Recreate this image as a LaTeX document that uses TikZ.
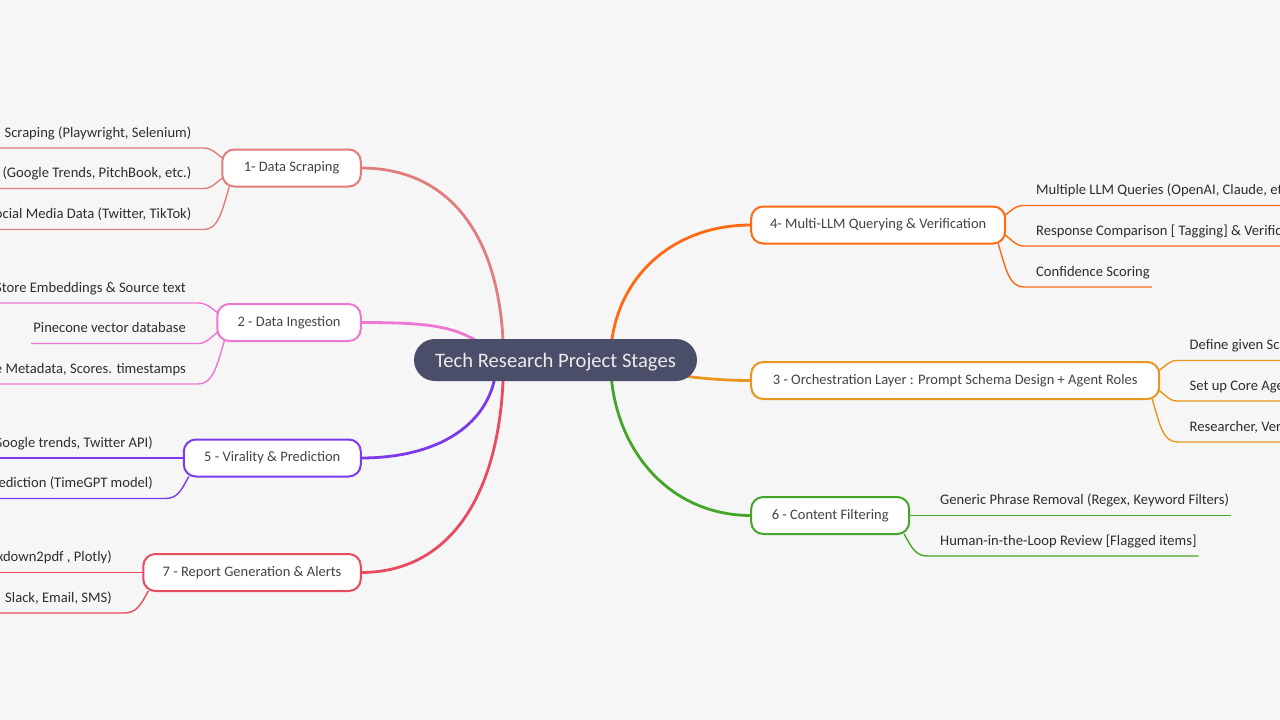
\documentclass[tikz,border=0pt]{standalone}
\usepackage{fontspec}
\setmainfont{Carlito}
\usepackage{xcolor}
\usepackage{tikz}
\usetikzlibrary{positioning}
\usetikzlibrary{backgrounds}
\def\RootGap{54pt}
\def\TopicHeight{37pt}
\definecolor{pagebg}{HTML}{F6F6F6}
\definecolor{rootfill}{HTML}{4A4E69}
\definecolor{topictext}{HTML}{444444}
\definecolor{leaftext}{HTML}{2E2E2E}
\definecolor{scrapecol}{HTML}{E27D7D}
\definecolor{ingestcol}{HTML}{EE77D4}
\definecolor{viralcol}{HTML}{7C3AED}
\definecolor{reportcol}{HTML}{E84A5F}
\definecolor{querycol}{HTML}{FF6A13}
\definecolor{orchcol}{HTML}{E8961E}
\definecolor{filtercol}{HTML}{45A52A}
\tikzset{
	rootnode/.style={fill=rootfill,text=white!92!black,rounded corners=21pt,minimum width=283pt,minimum height=42pt,inner sep=0pt,text height=16pt,text depth=1pt,font=\fontsize{20.6}{24}\selectfont},
	topic/.style={draw=#1,fill=white,line width=2pt,outer sep=0pt,text=topictext,rounded corners=12pt,minimum height=\TopicHeight,inner sep=0pt,font=\fontsize{14.5}{18}\selectfont},
	leaf/.style={text=leaftext,inner xsep=2pt,inner ysep=7.5pt,text height=11pt,text depth=3pt,font=\fontsize{14.6}{18}\selectfont},
	branch/.style={draw=#1,line width=2.8pt},
	twig/.style={draw=#1,line width=1.4pt},
}
\begin{document}
\begin{tikzpicture}[x=1pt,y=-1pt]
	\useasboundingbox (0,0) rectangle (1280,720);
	\begin{pgfonlayer}{background}
		\fill[pagebg] (0,0) rectangle (1280,720);
	\end{pgfonlayer}
	\node[rootnode] (root) at (555.5,360) {Tech Research Project Stages};
	%
	\node[topic=scrapecol,minimum width=138.5pt,left=53pt of root.west,yshift=192pt] (scrape) {1- Data Scraping};
	\node[topic=ingestcol,minimum width=143.5pt,left=53pt of root.west,yshift=37.5pt] (ingest) {2 - Data Ingestion};
	\node[topic=viralcol,minimum width=177pt,left=53pt of root.west,yshift=-98pt] (viral) {5 - Virality \& Prediction};
	\node[topic=reportcol,minimum width=217.5pt,left=53pt of root.west,yshift=-212.5pt] (report) {7 - Report Generation \& Alerts};
	\node[topic=querycol,minimum width=254pt,right=\RootGap of root.east,yshift=135pt] (query) {4- Multi-LLM Querying \& Verification};
	\node[topic=orchcol,minimum width=408pt,right=\RootGap of root.east,yshift=-20.5pt] (orch) {3 - Orchestration Layer : Prompt Schema Design + Agent Roles};
	\node[topic=filtercol,minimum width=158pt,right=\RootGap of root.east,yshift=-155.5pt] (filter) {6 - Content Filtering};
	%
	\node[leaf,anchor=south east] (scrapea) at (193.5,148) {Scraping (Playwright, Selenium)};
	\node[leaf,anchor=south east] (scrapeb) at (193.5,188.5) {(Google Trends, PitchBook, etc.)};
	\node[leaf,anchor=south east] (scrapec) at (193.5,229.5) {ocial Media Data (Twitter, TikTok)};
	\coordinate (scrapeaend) at (0,148);
	\coordinate (scrapebend) at (0,188.5);
	\coordinate (scrapecend) at (0,229.5);
	%
	\node[leaf,anchor=south east] (ingesta) at (188,303) {Store Embeddings \& Source text};
	\node[leaf,anchor=south east] (ingestb) at (188,343.5) {Pinecone vector database};
	\node[leaf,anchor=south east] (ingestc) at (188,384) {e Metadata, Scores. timestamps};
	\coordinate (ingestaend) at (0,303);
	\coordinate (ingestcend) at (0,384);
	%
	\node[leaf,anchor=south east] (virala) at (155,458) {Google trends, Twitter API)};
	\node[leaf,anchor=south east] (viralb) at (155,498.5) {ediction (TimeGPT model)};
	\coordinate (viralaend) at (0,458);
	\coordinate (viralbend) at (0,498.5);
	%
	\node[leaf,anchor=south east] (reporta) at (114,572.5) {xdown2pdf , Plotly)};
	\node[leaf,anchor=south east] (reportb) at (114,613) {Slack, Email, SMS)};
	\coordinate (reportaend) at (0,572.5);
	\coordinate (reportbend) at (0,613);
	%
	\node[leaf,anchor=south west] (querya) at (1034,205.5) {Multiple LLM Queries (OpenAI, Claude, et};
	\node[leaf,anchor=south west] (queryb) at (1034,246) {Response Comparison [ Tagging] \& Verific};
	\node[leaf,anchor=south west] (queryc) at (1034,287) {Confidence Scoring};
	\coordinate (queryaend) at (1280,205.5);
	\coordinate (querybend) at (1280,246);
	%
	\node[leaf,anchor=south west] (orcha) at (1187.5,360.5) {Define given Sc};
	\node[leaf,anchor=south west] (orchb) at (1187.5,401) {Set up Core Age};
	\node[leaf,anchor=south west] (orchc) at (1187.5,442) {Researcher, Ver};
	\coordinate (orchaend) at (1280,360.5);
	\coordinate (orchbend) at (1280,401);
	\coordinate (orchcend) at (1280,442);
	%
	\node[leaf,anchor=south west] (filtera) at (938,515.5) {Generic Phrase Removal (Regex, Keyword Filters)};
	\node[leaf,anchor=south west] (filterb) at (938,556) {Human-in-the-Loop Review [Flagged items]};
	%
	\begin{pgfonlayer}{background}
		\draw[branch=scrapecol] (scrape.east) .. controls +(95,0) and +(0,-115) .. ([xshift=-52pt]root.center);
		\draw[branch=ingestcol] (ingest.east) .. controls +(85,0) and +(-40,-32) .. ([xshift=-52pt]root.center);
		\draw[branch=viralcol] (viral.east) .. controls +(85,0) and +(0,58) .. ([xshift=-59pt]root.center);
		\draw[branch=reportcol] (report.east) .. controls +(95,0) and +(0,125) .. ([xshift=-52pt]root.center);
		\draw[branch=querycol] (query.west) .. controls +(-85,0) and +(0,-75) .. ([xshift=55pt]root.center);
		\draw[branch=orchcol] (orch.west) .. controls +(-30,0) and +(60,18) .. ([xshift=55pt]root.center);
		\draw[branch=filtercol] (filter.west) .. controls +(-85,0) and +(0,85) .. ([xshift=55pt]root.center);
		%
		\draw[twig=scrapecol] ([yshift=10pt]scrape.west) .. controls +(-8,-6) and +(8,0) .. ([xshift=10pt]scrapea.south east) -- (scrapeaend);
		\draw[twig=scrapecol] ([yshift=-10pt]scrape.west) .. controls +(-8,6) and +(8,0) .. ([xshift=10pt]scrapeb.south east) -- (scrapebend);
		\draw[twig=scrapecol] ([xshift=7pt]scrape.south west) .. controls +(-8,28) and +(14,0) .. ([xshift=10pt]scrapec.south east) -- (scrapecend);
		%
		\draw[twig=ingestcol] ([yshift=10pt]ingest.west) .. controls +(-8,-6) and +(8,0) .. ([xshift=10pt]ingesta.south east) -- (ingestaend);
		\draw[twig=ingestcol] ([yshift=-10pt]ingest.west) .. controls +(-8,6) and +(8,0) .. ([xshift=10pt]ingestb.south east) -- (ingestb.south west);
		\draw[twig=ingestcol] ([xshift=7pt]ingest.south west) .. controls +(-8,28) and +(14,0) .. ([xshift=10pt]ingestc.south east) -- (ingestcend);
		%
		\draw[twig=viralcol] (viral.west) -- (viralaend);
		\draw[twig=viralcol] ([xshift=5pt]viral.south west) .. controls +(-8,15) and +(12,0) .. ([xshift=10pt]viralb.south east) -- (viralbend);
		%
		\draw[twig=reportcol] (report.west) -- (reportaend);
		\draw[twig=reportcol] ([xshift=5pt]report.south west) .. controls +(-8,15) and +(12,0) .. ([xshift=10pt]reportb.south east) -- (reportbend);
		%
		\draw[twig=querycol] ([yshift=10pt]query.east) .. controls +(8,-6) and +(-8,0) .. ([xshift=-10pt]querya.south west) -- (queryaend);
		\draw[twig=querycol] ([yshift=-10pt]query.east) .. controls +(8,6) and +(-8,0) .. ([xshift=-10pt]queryb.south west) -- (querybend);
		\draw[twig=querycol] ([xshift=-7pt]query.south east) .. controls +(8,28) and +(-14,0) .. ([xshift=-10pt]queryc.south west) -- (queryc.south east);
		%
		\draw[twig=orchcol] ([yshift=10pt]orch.east) .. controls +(8,-6) and +(-8,0) .. ([xshift=-10pt]orcha.south west) -- (orchaend);
		\draw[twig=orchcol] ([yshift=-10pt]orch.east) .. controls +(8,6) and +(-8,0) .. ([xshift=-10pt]orchb.south west) -- (orchbend);
		\draw[twig=orchcol] ([xshift=-7pt]orch.south east) .. controls +(8,28) and +(-14,0) .. ([xshift=-10pt]orchc.south west) -- (orchcend);
		%
		\draw[twig=filtercol] (filter.east) -- (filtera.south east);
		\draw[twig=filtercol] ([xshift=-5pt]filter.south east) .. controls +(8,15) and +(-12,0) .. ([xshift=-10pt]filterb.south west) -- (filterb.south east);
	\end{pgfonlayer}
\end{tikzpicture}
\end{document}
